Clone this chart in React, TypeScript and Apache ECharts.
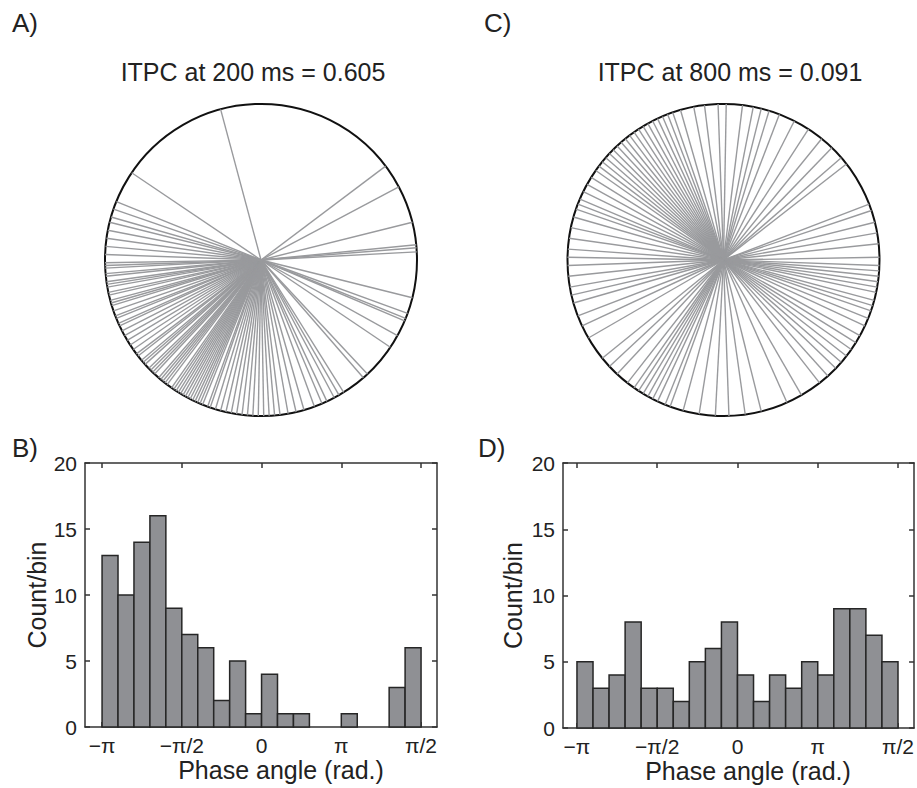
import React, { useEffect, useRef } from "react";
import * as echarts from "echarts";

const PI = Math.PI;
const FONT = "'Liberation Sans', Arial, sans-serif";
const TEXT = "#222";

// Histogram bins (centers, in multiples of pi)
const BIN_CENTERS_PI = [
  -0.95, -0.85, -0.75, -0.65, -0.55, -0.45, -0.35, -0.25, -0.15, -0.05,
  0.05, 0.15, 0.25, 0.35, 0.45, 0.55, 0.65, 0.75, 0.85, 0.95,
];
const BIN_HALF_WIDTH_PI = 0.05;
const COUNTS_B = [13, 10, 14, 16, 9, 7, 6, 2, 5, 1, 4, 1, 1, 0, 0, 1, 0, 0, 3, 6];
const COUNTS_D = [5, 3, 4, 8, 3, 3, 2, 5, 6, 8, 4, 2, 4, 3, 5, 4, 9, 9, 7, 5];

// Tick positions (multiples of pi) and their printed labels
const TICK_VALUES_PI = [-1, -0.5, 0, 0.5, 1];
const TICK_LABELS = ["\u2212\u03c0", "\u2212\u03c0/2", "0", "\u03c0", "\u03c0/2"];
const Y_TICKS = [0, 5, 10, 15, 20];

// Phase angles of each trial (degrees)
const ANGLES_A = [
  -179, -178, -177, -175, -174, -172, -171, -170, -168, -167, -165, -164, -163,
  -161, -159, -158, -156, -155, -153, -151, -149, -147, -145,
  -143, -142, -140, -139, -138, -136, -135, -134, -133, -131, -130, -129, -128, -127,
  -125, -124, -123, -122, -121, -120, -119, -118, -117, -116, -115, -114, -113, -112, -110, -109,
  -107, -105, -103, -101, -99, -97, -95, -93, -91,
  -89, -87, -85, -83, -80, -77, -74,
  -70, -67, -65, -62, -60, -58,
  -49, -47,
  -34, -29, -23, -22, -20,
  -14,
  3, 4.5, 5.6, 14,
  28,
  37,
  105,
  146, 158, 161,
  164, 166, 169, 172, 175, 178,
];
const ANGLES_C = [
  -178, -174, -170, -167, -164,
  -159, -155, -150,
  -141, -137, -133, -128,
  -125, -123, -121, -119, -117, -115, -112, -110,
  -105, -99, -93,
  -88, -82, -76,
  -66, -60,
  -52, -48, -44, -41, -38,
  -35, -32, -29, -25, -22, -19,
  -17, -15, -12, -10, -8, -6, -4, -2,
  1, 6, 10, 14,
  18.5, 21,
  38, 41, 46, 51,
  57, 63, 69,
  73, 76, 79, 83, 89,
  92, 97, 101, 106,
  109, 111, 113, 115, 117, 119, 121, 123, 125,
  127, 129, 131, 133, 135, 137, 139, 141, 143,
  145, 148, 151, 154, 157, 159, 161,
  164, 168, 172, 176, 179,
];

const TITLE_A = "ITPC at 200 ms = 0.605";
const TITLE_C = "ITPC at 800 ms = 0.091";

function tickLabel(v: number): string {
  for (let i = 0; i < TICK_VALUES_PI.length; i++) {
    if (Math.abs(v - TICK_VALUES_PI[i] * PI) < 1e-6) return TICK_LABELS[i];
  }
  return "";
}

function buildOption() {
  const polarAxis = (i: number) => ({
    polarIndex: i,
    type: "value",
    min: -180,
    max: 180,
    startAngle: 180,
    clockwise: false,
    axisLine: { show: true, lineStyle: { color: "#111", width: 2 } },
    axisTick: { show: false },
    axisLabel: { show: false },
    splitLine: { show: false },
  });
  const radiusAxis = (i: number) => ({
    polarIndex: i,
    type: "value",
    min: 0,
    max: 1,
    axisLine: { show: false },
    axisTick: { show: false },
    axisLabel: { show: false },
    splitLine: { show: false },
  });

  const tickVals = TICK_VALUES_PI.map((v) => v * PI);
  const lineStyle = { color: "#333", width: 1.5 };
  const axisLine = { show: true, onZero: false, lineStyle };
  const tick = { inside: true, length: 5, lineStyle: { color: "#333", width: 1.5 } };

  const xAxes = (gridIndex: number, min: number, max: number, namePad: number) => [
    {
      gridIndex,
      type: "value",
      position: "bottom",
      min,
      max,
      name: "Phase angle (rad.)",
      nameLocation: "middle",
      nameGap: 30,
      nameTextStyle: { fontFamily: FONT, fontSize: 25, color: TEXT, padding: [0, 0, 0, namePad] },
      axisLine,
      axisTick: { ...tick, customValues: tickVals },
      axisLabel: {
        customValues: tickVals,
        formatter: (v: number) => tickLabel(v),
        fontFamily: FONT,
        fontSize: 21,
        color: TEXT,
        margin: 8,
      },
      splitLine: { show: false },
    },
    {
      gridIndex,
      type: "value",
      position: "top",
      min,
      max,
      axisLine,
      axisTick: { ...tick, customValues: tickVals },
      axisLabel: { show: false },
      splitLine: { show: false },
    },
  ];
  const yAxes = (gridIndex: number, nameGap: number) => [
    {
      gridIndex,
      type: "value",
      position: "left",
      min: 0,
      max: 20,
      interval: 5,
      name: "Count/bin",
      nameLocation: "middle",
      nameGap,
      nameRotate: 90,
      nameTextStyle: { fontFamily: FONT, fontSize: 25, color: TEXT },
      axisLine,
      axisTick: tick,
      axisLabel: {
        fontFamily: FONT,
        fontSize: 21,
        color: TEXT,
        margin: 8,
        customValues: Y_TICKS,
      },
      splitLine: { show: false },
    },
    {
      gridIndex,
      type: "value",
      position: "right",
      min: 0,
      max: 20,
      interval: 5,
      axisLine,
      axisTick: tick,
      axisLabel: { show: false },
      splitLine: { show: false },
    },
  ];

  const radialSeries = (polarIndex: number, angles: number[]) => ({
    type: "custom",
    coordinateSystem: "polar",
    polarIndex,
    data: angles.map((a) => [1, a]),
    silent: true,
    renderItem: (params: any, api: any) => {
      const a = api.value(1);
      const p0 = api.coord([0, a]);
      const p1 = api.coord([1, a]);
      return {
        type: "line",
        shape: { x1: p0[0], y1: p0[1], x2: p1[0], y2: p1[1] },
        style: { stroke: "#999a9d", lineWidth: 1.4 },
      };
    },
  });

  const histSeries = (axisIndex: number, counts: number[]) => ({
    type: "custom",
    coordinateSystem: "cartesian2d",
    xAxisIndex: axisIndex,
    yAxisIndex: axisIndex,
    data: BIN_CENTERS_PI.map((c, i) => [c * PI, counts[i]]),
    silent: true,
    renderItem: (params: any, api: any) => {
      const c = api.value(0);
      const n = api.value(1);
      if (!n) return null;
      const tl = api.coord([c - BIN_HALF_WIDTH_PI * PI, n]);
      const br = api.coord([c + BIN_HALF_WIDTH_PI * PI, 0]);
      return {
        type: "rect",
        shape: { x: tl[0], y: tl[1], width: br[0] - tl[0], height: br[1] - tl[1] },
        style: { fill: "#8f9094", stroke: "#262626", lineWidth: 1.5 },
      };
    },
  });

  const label = (text: string, x: number, y: number, size: number, align = "left") => ({
    type: "text",
    x,
    y,
    style: {
      text,
      fontFamily: FONT,
      fontSize: size,
      fill: TEXT,
      textAlign: align,
      textVerticalAlign: "middle",
    },
  });

  return {
    animation: false,
    backgroundColor: "#ffffff",
    polar: [
      { center: [261, 260], radius: 156 },
      { center: [723.5, 260], radius: 156 },
    ],
    angleAxis: [polarAxis(0), polarAxis(1)],
    radiusAxis: [radiusAxis(0), radiusAxis(1)],
    grid: [
      { left: 85, top: 463, width: 352, height: 264 },
      { left: 563, top: 463, width: 353, height: 265 },
    ],
    xAxis: [...xAxes(0, -1.107 * PI, 1.1 * PI, 40), ...xAxes(1, -1.087 * PI, 1.1 * PI, 19)],
    yAxis: [...yAxes(0, 36), ...yAxes(1, 38)],
    series: [
      radialSeries(0, ANGLES_A),
      radialSeries(1, ANGLES_C),
      histSeries(0, COUNTS_B),
      histSeries(2, COUNTS_D),
    ],
    graphic: [
      label("A)", 12, 23, 26),
      label("C)", 484, 23, 26),
      label("B)", 12, 448, 26),
      label("D)", 478, 448, 26),
      label(TITLE_A, 253, 72, 25, "center"),
      label(TITLE_C, 730, 72, 25, "center"),
    ],
  };
}

export default function App() {
  const ref = useRef<HTMLDivElement>(null);
  useEffect(() => {
    if (!ref.current) return;
    const chart = echarts.init(ref.current, undefined, { renderer: "svg" });
    chart.setOption(buildOption() as any);
    return () => chart.dispose();
  }, []);
  return (
    <div
      ref={ref}
      style={{ position: "fixed", left: 0, top: 0, width: 917, height: 788, background: "#fff" }}
    />
  );
}
